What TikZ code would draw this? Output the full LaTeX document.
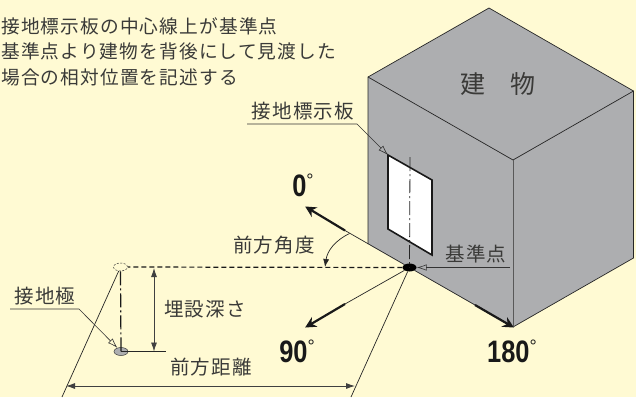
\documentclass[tikz,border=0pt]{standalone}
\usepackage{fontspec}
\usetikzlibrary{arrows.meta, shapes.geometric}
\newfontfamily\jpfont[LetterSpace=6]{Noto Sans CJK JP}
\newfontfamily\degfont[FakeStretch=0.82]{Liberation Sans Bold}
\definecolor{paper}{HTML}{FFFAD3}
\definecolor{wall}{HTML}{ADAEB0}
\definecolor{ink}{HTML}{3A3A38}
\newcommand{\degmark}{\raisebox{0.33em}{\fontsize{18}{18}\selectfont\fontspec{Liberation Sans}°}}

\begin{document}
\begin{tikzpicture}[x=1pt,y=-1pt]

\tikzset{note/.style = {font=\jpfont\fontsize{19.5}{21}\selectfont, text=ink, inner sep=0pt}}
\tikzset{lead/.style = {font=\jpfont\fontsize{18.7}{20}\selectfont, text=ink, inner sep=0pt, anchor=west}}
\tikzset{angle/.style = {font=\degfont\fontsize{31}{31}\selectfont, text=black!90, inner sep=0pt}}
\tikzset{edge/.style = {draw=black!85, line width=0.7pt}}
\tikzset{leader/.style = {draw=black!80, line width=0.6pt, -{Latex[open,length=10pt,width=6.5pt]}}}
\tikzset{heavy/.style = {draw=black!90, line width=2.2pt, -{Stealth[length=11pt,width=11pt]}, shorten >=-1pt}}
\tikzset{dim/.style = {draw=black!75, line width=0.8pt, {Latex[length=9pt,width=6pt]}-{Latex[length=9pt,width=6pt]}}}
\tikzset{spot/.style = {shape=ellipse, minimum width=14pt, minimum height=8pt, inner sep=0pt}}

\useasboundingbox (0,0) rectangle (636,397);
\clip (0,0) rectangle (636,397);
\fill[paper] (0,0) rectangle (636,397);

%building
\coordinate (topback) at (489,8);
\coordinate (topright) at (633.5,91);
\coordinate (topleft) at (368,77);
\coordinate (topfront) at (513,160);
\coordinate (lowright) at (633.5,258);
\coordinate (lowfront) at (513,327);
\coordinate (lowleft) at (368,244);
\fill[wall] (topback) -- (topright) -- (lowright) -- (lowfront) -- (lowleft) -- (topleft) -- cycle;
\draw[edge] (lowleft) -- (topleft) -- (topback) -- (topright) -- (lowright) -- (lowfront);
\draw[edge] (topleft) -- (topfront) -- (topright);
\draw[draw=black!65, line width=1pt] (topfront) -- (lowfront);

%signboard
\coordinate (boardnw) at (388,155);
\coordinate (boardne) at (432,180);
\coordinate (boardse) at (432,255);
\coordinate (boardsw) at (388,229);
\draw[black!90, fill=white, line width=1.6pt] (boardnw) -- (boardne) -- (boardse) -- (boardsw) -- cycle;

%points
\node[spot, fill=black] (base) at (409.5,267.5) {};
\node[spot, fill=wall, draw=black!75, line width=0.5pt] (rod) at (121,351.5) {};
\node[spot, draw=black!80, dashed, line width=0.5pt, dash pattern=on 2pt off 1.5pt] (ghost) at (120.5,267) {};
\coordinate (linetop) at (410,157);
\coordinate (aim0) at (306,207);
\coordinate (aim90) at (306,327);
\coordinate (far) at (351,397);
\coordinate (near) at (62,397);
\coordinate (start0) at (345,230.5);
\coordinate (start90) at (345,304);
\coordinate (start180) at (475,305);

\draw[black!85, line width=0.8pt, dash pattern=on 14pt off 3pt on 2pt off 3pt] (linetop) -- (base.center);
\draw[black!90, line width=1.2pt, dash pattern=on 5pt off 3pt] (base.west) -- (ghost.east);
\draw[black!90, line width=1.2pt, dash pattern=on 14pt off 3pt on 2pt off 3pt] (ghost.south) -- (rod.center);

%directions
\draw[edge] (base) -- (start0);
\draw[edge] (base) -- (start90);
\draw[edge] (base) -- (far);
\draw[edge] (ghost) -- (near);
\draw[edge] (base) -- (start180);
\draw[heavy] (start0) -- (aim0);
\draw[heavy] (start90) -- (aim90);
\draw[heavy] (start180) -- (lowfront);
\node[angle] (deg0) at (303,185) {0\degmark};
\node[angle] (deg90) at (297,351) {90\degmark};
\node[angle] (deg180) at (512,351) {180\degmark};

%angle
\coordinate (arcfrom) at (349.5,233.5);
\coordinate (arcto) at (325,267);
\draw[edge, -{Latex[length=8pt,width=6pt]}] (arcfrom) to[bend right=28] (arcto);
\node[note] (angletxt) at (274,245) {前方角度};

%dimensions
\coordinate (riserod) at (166,351.5);
\coordinate (depthtop) at (154,268);
\coordinate (depthlow) at (154,351.5);
\coordinate (spanleft) at (66,386);
\coordinate (spanright) at (355,386);
\draw[edge] (rod.center) -- (riserod);
\draw[dim] (depthtop) -- (depthlow);
\draw[dim] (spanleft) -- (spanright);
\node[note] (depth) at (205,309) {埋設深さ};
\node[note] (span) at (211,367) {前方距離};

%leaders
\coordinate (boardfoot) at (247,124);
\coordinate (boardbend) at (357,124);
\coordinate (rodfoot) at (10,309);
\coordinate (rodbend) at (79,309);
\coordinate (basefoot) at (510,267.5);
\draw[leader] (boardfoot) -- (boardbend) -- (boardnw);
\draw[leader] (rodfoot) -- (rodbend) -- (rod);
\draw[leader] (basefoot) -- (base);
\node[note] (boardtxt) at (303,111) {接地標示板};
\node[note] (rodtxt) at (45,296) {接地極};
\node[note] (basetxt) at (476,254) {基準点};
\node[note, font=\jpfont\fontsize{25}{25}\selectfont] (house) at (498,84) {建\hspace{1em}物};

%explanation
\node[lead] (line1) at (1,26) {接地標示板の中心線上が基準点};
\node[lead] (line2) at (1,51) {基準点より建物を背後にして見渡した};
\node[lead] (line3) at (1,77) {場合の相対位置を記述する};

\end{tikzpicture}
\end{document}
